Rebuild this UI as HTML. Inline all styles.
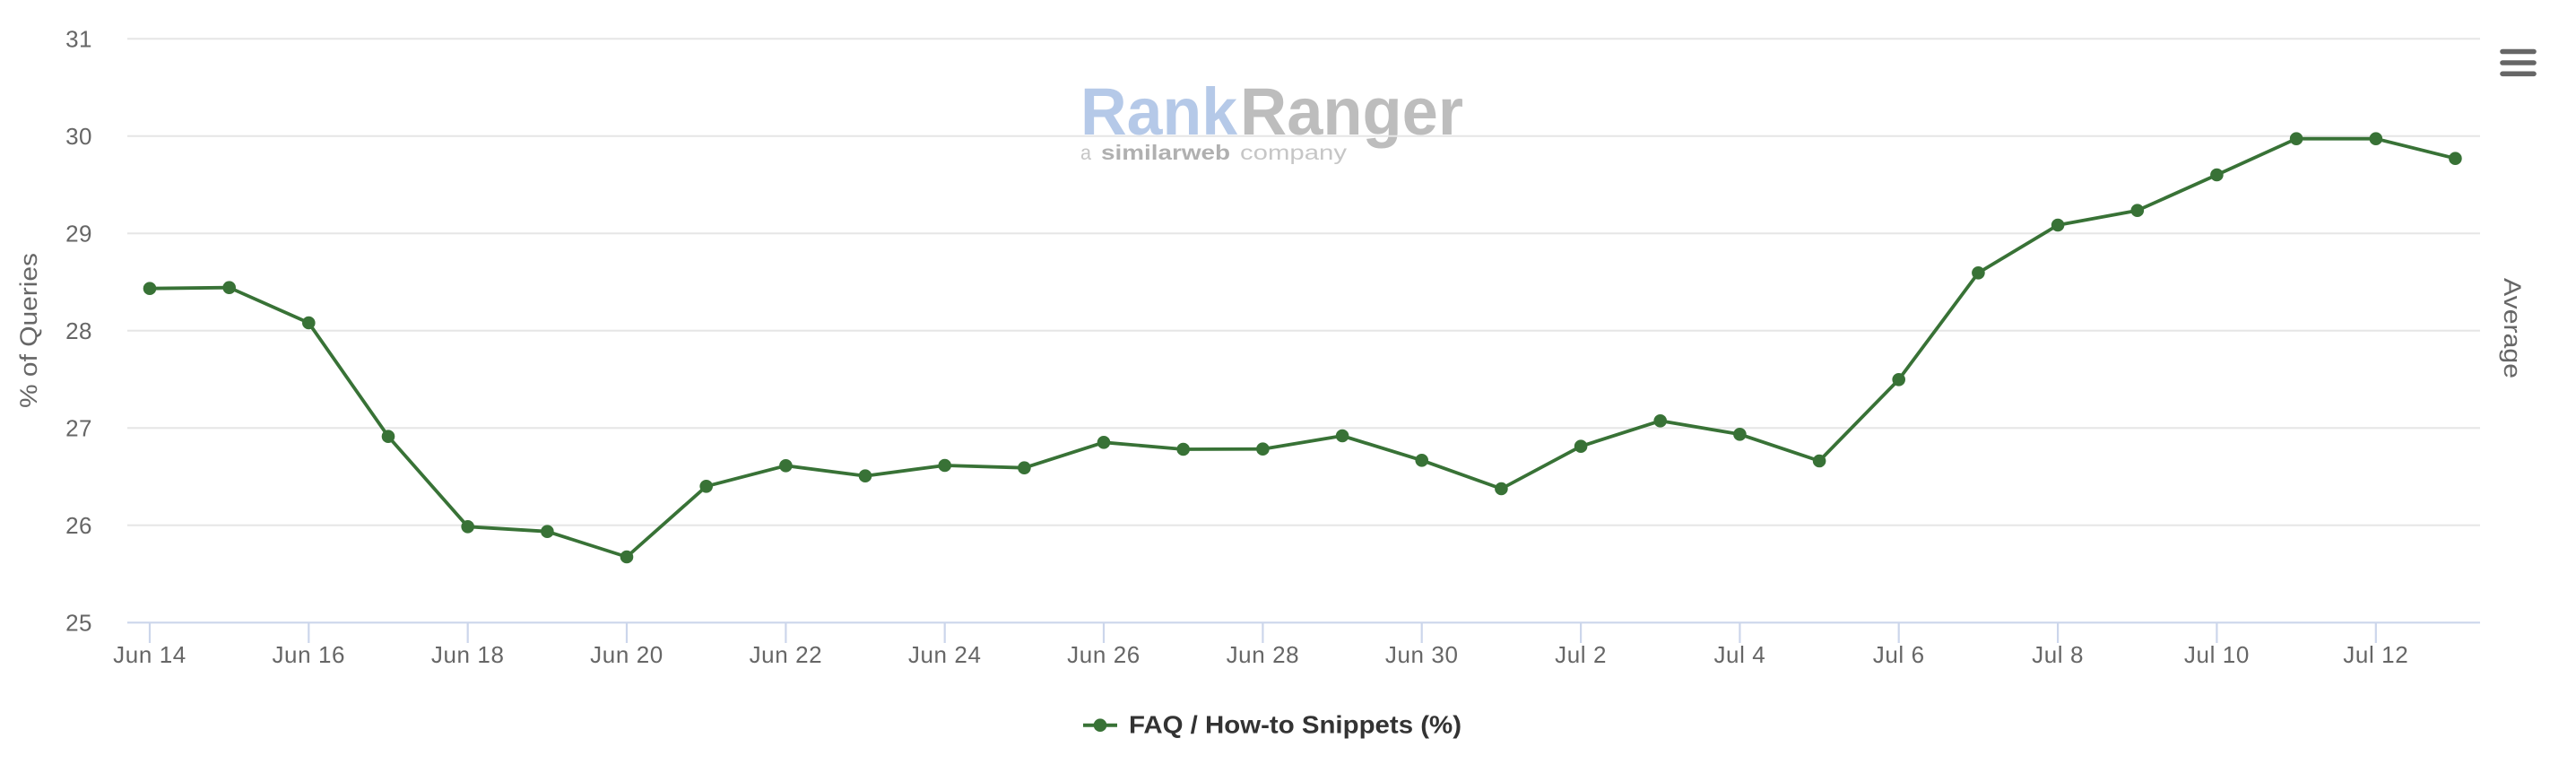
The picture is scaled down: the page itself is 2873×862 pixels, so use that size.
<!DOCTYPE html>
<html>
<head>
<meta charset="utf-8">
<style>
html,body{margin:0;padding:0;background:#fff;}
svg{display:block;}
text{font-family:"Liberation Sans",sans-serif;}
</style>
</head>
<body>
<svg width="2873" height="862" viewBox="0 0 2873 862" xmlns="http://www.w3.org/2000/svg">
<rect width="2873" height="862" fill="#ffffff"/>

<!-- Logo watermark -->
<g>
  <text x="1205" y="150" font-size="74" font-weight="bold" fill="#b5c9e8" textLength="175" lengthAdjust="spacingAndGlyphs">Rank</text>
  <text x="1383" y="150" font-size="74" font-weight="bold" fill="#bdbdbd" textLength="249" lengthAdjust="spacingAndGlyphs">Ranger</text>
  <text x="1205" y="178" font-size="23" fill="#c6c6c6" textLength="12" lengthAdjust="spacingAndGlyphs">a</text>
  <text x="1228" y="178" font-size="23" font-weight="bold" fill="#b0b0b0" textLength="144" lengthAdjust="spacingAndGlyphs">similarweb</text>
  <text x="1383" y="178" font-size="23" fill="#c6c6c6" textLength="119" lengthAdjust="spacingAndGlyphs">company</text>
</g>

<!-- Gridlines -->
<g stroke="#e6e6e6" stroke-width="2">
  <line x1="142" y1="43.3" x2="2766" y2="43.3"/>
  <line x1="142" y1="151.8" x2="2766" y2="151.8"/>
  <line x1="142" y1="260.3" x2="2766" y2="260.3"/>
  <line x1="142" y1="368.8" x2="2766" y2="368.8"/>
  <line x1="142" y1="477.3" x2="2766" y2="477.3"/>
  <line x1="142" y1="585.8" x2="2766" y2="585.8"/>
</g>
<!-- X axis line -->
<line x1="142" y1="694.3" x2="2766" y2="694.3" stroke="#ccd6eb" stroke-width="2.2"/>
<!-- Ticks -->
<g stroke="#ccd6eb" stroke-width="2.2">
  <line x1="167" y1="694" x2="167" y2="717"/>
  <line x1="344.3" y1="694" x2="344.3" y2="717"/>
  <line x1="521.7" y1="694" x2="521.7" y2="717"/>
  <line x1="699" y1="694" x2="699" y2="717"/>
  <line x1="876.4" y1="694" x2="876.4" y2="717"/>
  <line x1="1053.7" y1="694" x2="1053.7" y2="717"/>
  <line x1="1231" y1="694" x2="1231" y2="717"/>
  <line x1="1408.4" y1="694" x2="1408.4" y2="717"/>
  <line x1="1585.7" y1="694" x2="1585.7" y2="717"/>
  <line x1="1763.1" y1="694" x2="1763.1" y2="717"/>
  <line x1="1940.4" y1="694" x2="1940.4" y2="717"/>
  <line x1="2117.7" y1="694" x2="2117.7" y2="717"/>
  <line x1="2295.1" y1="694" x2="2295.1" y2="717"/>
  <line x1="2472.4" y1="694" x2="2472.4" y2="717"/>
  <line x1="2649.8" y1="694" x2="2649.8" y2="717"/>
</g>

<!-- Y labels -->
<g font-size="26" fill="#666666" text-anchor="end" letter-spacing="0.5">
  <text x="103" y="52.3">31</text>
  <text x="103" y="160.8">30</text>
  <text x="103" y="269.3">29</text>
  <text x="103" y="377.8">28</text>
  <text x="103" y="486.3">27</text>
  <text x="103" y="594.8">26</text>
  <text x="103" y="703.3">25</text>
</g>

<!-- X labels -->
<g font-size="26" fill="#666666" text-anchor="middle" letter-spacing="0.6">
  <text x="167" y="739">Jun 14</text>
  <text x="344.3" y="739">Jun 16</text>
  <text x="521.7" y="739">Jun 18</text>
  <text x="699" y="739">Jun 20</text>
  <text x="876.4" y="739">Jun 22</text>
  <text x="1053.7" y="739">Jun 24</text>
  <text x="1231" y="739">Jun 26</text>
  <text x="1408.4" y="739">Jun 28</text>
  <text x="1585.7" y="739">Jun 30</text>
  <text x="1763.1" y="739">Jul 2</text>
  <text x="1940.4" y="739">Jul 4</text>
  <text x="2117.7" y="739">Jul 6</text>
  <text x="2295.1" y="739">Jul 8</text>
  <text x="2472.4" y="739">Jul 10</text>
  <text x="2649.8" y="739">Jul 12</text>
</g>

<!-- Axis titles -->
<text transform="translate(41,368.5) rotate(-90)" font-size="27" fill="#666666" text-anchor="middle" textLength="173" lengthAdjust="spacingAndGlyphs">% of Queries</text>
<text transform="translate(2793,366) rotate(90)" font-size="27" fill="#666666" text-anchor="middle" textLength="112" lengthAdjust="spacingAndGlyphs">Average</text>

<!-- Menu icon -->
<g stroke="#666666" stroke-width="5.6" stroke-linecap="round">
  <line x1="2791" y1="57.5" x2="2826" y2="57.5"/>
  <line x1="2791" y1="70" x2="2826" y2="70"/>
  <line x1="2791" y1="82.3" x2="2826" y2="82.3"/>
</g>

<!-- Series -->
<polyline fill="none" stroke="#387236" stroke-width="3.8" stroke-linejoin="round" stroke-linecap="round"
points="167,321.7 255.7,320.7 344.3,360 433,486.7 521.7,587.3 610.4,592.7 699,621 787.7,542.3 876.4,519.3 965,530.7 1053.7,519 1142.4,521.7 1231,493.3 1319.7,501 1408.4,500.7 1497.1,486 1585.7,513.3 1674.4,545 1763.1,497.7 1851.7,469.3 1940.4,484.3 2029.1,514 2117.7,423.3 2206.4,304.3 2295.1,251 2383.8,234.7 2472.4,195 2561.1,154.7 2649.8,154.7 2738.4,176.7"/>
<g fill="#387236">
  <circle cx="167" cy="321.7" r="7.3"/>
  <circle cx="255.7" cy="320.7" r="7.3"/>
  <circle cx="344.3" cy="360" r="7.3"/>
  <circle cx="433" cy="486.7" r="7.3"/>
  <circle cx="521.7" cy="587.3" r="7.3"/>
  <circle cx="610.4" cy="592.7" r="7.3"/>
  <circle cx="699" cy="621" r="7.3"/>
  <circle cx="787.7" cy="542.3" r="7.3"/>
  <circle cx="876.4" cy="519.3" r="7.3"/>
  <circle cx="965" cy="530.7" r="7.3"/>
  <circle cx="1053.7" cy="519" r="7.3"/>
  <circle cx="1142.4" cy="521.7" r="7.3"/>
  <circle cx="1231" cy="493.3" r="7.3"/>
  <circle cx="1319.7" cy="501" r="7.3"/>
  <circle cx="1408.4" cy="500.7" r="7.3"/>
  <circle cx="1497.1" cy="486" r="7.3"/>
  <circle cx="1585.7" cy="513.3" r="7.3"/>
  <circle cx="1674.4" cy="545" r="7.3"/>
  <circle cx="1763.1" cy="497.7" r="7.3"/>
  <circle cx="1851.7" cy="469.3" r="7.3"/>
  <circle cx="1940.4" cy="484.3" r="7.3"/>
  <circle cx="2029.1" cy="514" r="7.3"/>
  <circle cx="2117.7" cy="423.3" r="7.3"/>
  <circle cx="2206.4" cy="304.3" r="7.3"/>
  <circle cx="2295.1" cy="251" r="7.3"/>
  <circle cx="2383.8" cy="234.7" r="7.3"/>
  <circle cx="2472.4" cy="195" r="7.3"/>
  <circle cx="2561.1" cy="154.7" r="7.3"/>
  <circle cx="2649.8" cy="154.7" r="7.3"/>
  <circle cx="2738.4" cy="176.7" r="7.3"/>
</g>

<!-- Legend -->
<line x1="1208" y1="808.7" x2="1246" y2="808.7" stroke="#387236" stroke-width="4"/>
<circle cx="1227" cy="808.7" r="7.3" fill="#387236"/>
<text x="1259" y="817.5" font-size="28" font-weight="bold" fill="#333333" textLength="371" lengthAdjust="spacingAndGlyphs">FAQ / How-to Snippets (%)</text>
</svg>
</body>
</html>
